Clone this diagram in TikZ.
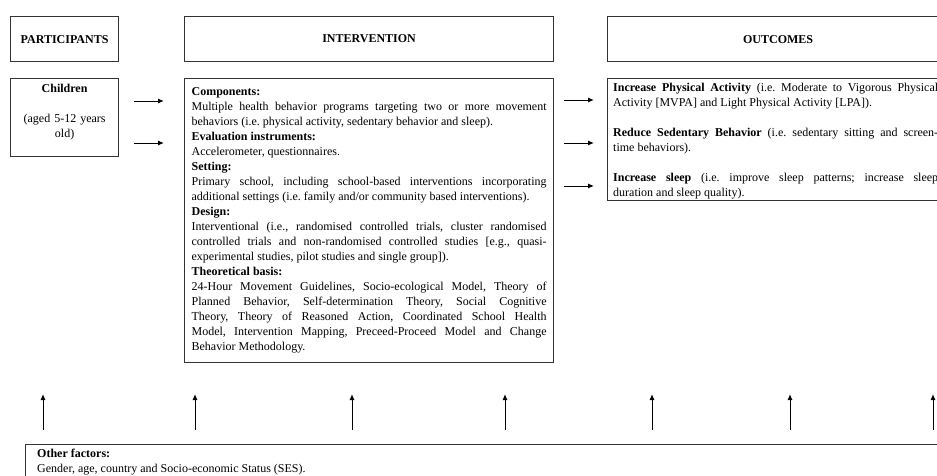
\documentclass[tikz,border=0pt]{standalone}
\usepackage{fontspec}
\setmainfont{Liberation Serif}
\usetikzlibrary{positioning}
\usetikzlibrary{arrows.meta}

\begin{document}
\begin{tikzpicture}[x=1pt, y=-1pt,
  every node/.style={font=\fontsize{12}{15}\selectfont\frenchspacing},
  box/.style={draw=black!80, line width=1.2pt, rectangle, inner sep=0pt},
  head/.style={box, minimum height=45pt, font=\fontsize{12}{15}\selectfont\bfseries},
  flow/.style={-{Latex[length=6pt,width=5pt]}, line width=1pt}]
  \useasboundingbox (0,0) rectangle (937,475);
  \clip (0,0) rectangle (937,475);

  % column heads
  \node[head, minimum width=108pt, anchor=north west] (part) at (10,16) {PARTICIPANTS};
  \node[head, minimum width=369pt, anchor=north west] (intv) at (184,16) {INTERVENTION};
  \node[head, minimum width=341pt, anchor=north west] (outc) at (607,16) {OUTCOMES};

  % participants
  \node[box, minimum width=108pt, minimum height=78pt, anchor=north west] (kids) at (10,78) {};
  \node[align=center, text width=100pt, inner sep=0pt, below=6pt of kids.north] (kidstxt)
    {\textbf{Children}\\[15pt](aged 5-12 years\\old)};

  % intervention
  \node[box, anchor=north west, text width=355pt, align=justify, inner xsep=7pt,
        minimum height=284pt] (intvbody) at (184,78)
  {\textbf{Components:}\\
   Multiple health behavior programs targeting two or more movement\linebreak
   behaviors (i.e. physical activity, sedentary behavior and sleep).\\
   \textbf{Evaluation instruments:}\\
   Accelerometer, questionnaires.\\
   \textbf{Setting:}\\
   Primary school, including school-based interventions incorporating\linebreak
   additional settings (i.e. family and/or community based interventions).\\
   \textbf{Design:}\\
   Interventional (i.e., randomised controlled trials, cluster randomised\linebreak
   controlled trials and non-randomised controlled studies [e.g., quasi-\linebreak
   experimental studies, pilot studies and single group]).\\
   \textbf{Theoretical basis:}\\
   24-Hour Movement Guidelines, Socio-ecological Model, Theory of\linebreak
   Planned Behavior, Self-determination Theory, Social Cognitive\linebreak
   Theory, Theory of Reasoned Action, Coordinated School Health\linebreak
   Model, Intervention Mapping, Preceed-Proceed Model and Change\linebreak
   Behavior Methodology.};

  % outcomes
  \node[box, minimum width=341pt, minimum height=122pt, anchor=north west] (outbody) at (607,78) {};
  \node[align=justify, text width=325pt, inner sep=0pt, below right=5pt and 6pt of outbody.north west] (outtxt)
  {\textbf{Increase Physical Activity} (i.e. Moderate to Vigorous Physical\linebreak
   Activity [MVPA] and Light Physical Activity [LPA]).\\[15pt]
   \textbf{Reduce Sedentary Behavior} (i.e. sedentary sitting and screen-\linebreak
   time behaviors).\\[15pt]
   \textbf{Increase sleep} (i.e. improve sleep patterns; increase sleep\linebreak
   duration and sleep quality).};

  % other factors
  \node[box, minimum width=950pt, minimum height=60pt, anchor=north west] (other) at (25,444) {};
  \node[align=left, inner sep=0pt, below right=5pt and 12pt of other.north west] (othertxt)
    {\textbf{Other factors:}\\Gender, age, country and Socio-economic Status (SES).};

  % arrows
  \foreach \yy in {101,143}
    \draw[flow, shorten <=15pt, shorten >=20pt] (kids.east |- 0,\yy) -- (intvbody.west |- 0,\yy);
  \foreach \yy in {100,143,186}
    \draw[flow, shorten <=10pt, shorten >=13pt] (intvbody.east |- 0,\yy) -- (outbody.west |- 0,\yy);
  \foreach \xx in {43,195,352,505,652,790,933}
    \draw[flow, shorten <=14pt] (other.north -| \xx,0) -- ++(0,-50);
\end{tikzpicture}
\end{document}
